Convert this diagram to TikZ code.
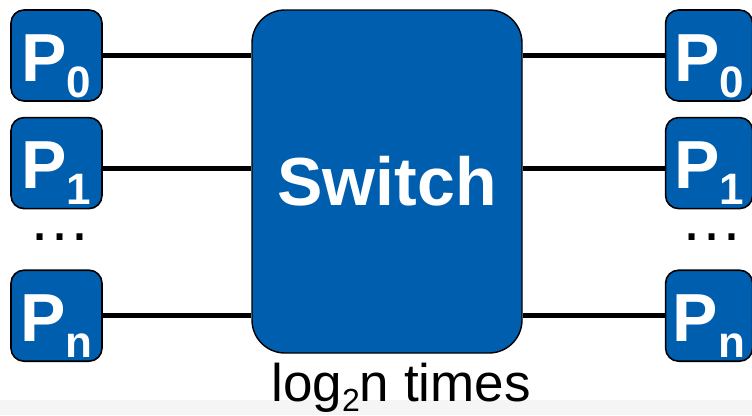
\documentclass[tikz,border=0pt]{standalone}
\usepackage{fontspec}
\setmainfont{Liberation Sans}
\usepackage{tikz}
\usetikzlibrary{positioning}
\definecolor{procblue}{RGB}{0,94,174}
\tikzset{
    proc/.style={
           rectangle,
           rounded corners=13pt,
           draw=black, line width=1.6pt,
           fill=procblue,
           text=white,
           minimum width=91pt,
           minimum height=91pt,
           inner sep=0pt,
           text height=71pt, text depth=20pt,
           font=\fontsize{68}{68}\selectfont\bfseries,
           },
    switchbox/.style={
           rectangle,
           rounded corners=33pt,
           draw=black, line width=1.4pt,
           fill=procblue,
           text=white,
           minimum width=270pt,
           minimum height=343pt,
           font=\fontsize{68}{68}\selectfont\bfseries,
           },
    dotsrow/.style={
           inner sep=0pt,
           font=\fontsize{63}{63}\selectfont,
           },
    wire/.style={
           draw=black,
           line width=4.8pt,
           },
}
% P with its index set low and smaller
\newcommand{\procname}[1]{P\raisebox{-16pt}{\fontsize{44}{44}\selectfont #1}}

\begin{document}
\begin{tikzpicture}[x=1pt,y=-1pt]

 \useasboundingbox (0,0) rectangle (752,415);
 \fill[black!4] (0,400) rectangle (752,415);

 % the switch in the middle
 \node[switchbox] (SWITCH) at (387,181.5) {Switch};

 % left column of processors
 \node[proc] (INP0) at (56.5,55.5) {\procname{0}};
 \node[proc, below=15pt of INP0] (INP1) {\procname{1}};
 \node[proc, below=60pt of INP1] (INPN) {\procname{n}};
 \node[dotsrow] (INDOTS) at (60,237) {…};

 % right column, same rows
 \node[proc, minimum width=87pt,
 right=562pt of INP0] (OUTP0) {\procname{0}};
 \node[proc, minimum width=87pt,
 right=562pt of INP1] (OUTP1) {\procname{1}};
 \node[proc, minimum width=87pt,
 right=562pt of INPN] (OUTPN) {\procname{n}};
 \node[dotsrow] (OUTDOTS) at (712,237) {…};

 % caption under the switch
 \node[below=9pt of SWITCH, xshift=14pt, inner sep=0pt,
 font=\fontsize{53}{53}\selectfont] (TIMES)
 {log\raisebox{-10pt}{\fontsize{32}{32}\selectfont 2}n times};

 % wires into and out of the switch
 \path[wire]
 (INP0.east) edge (INP0.east -| SWITCH.west)
 ([yshift=-5.5pt]INP1.east) edge ([yshift=-5.5pt]INP1.east -| SWITCH.west)
 (INPN.east) edge (INPN.east -| SWITCH.west)
 (SWITCH.east |- OUTP0.west) edge (OUTP0.west)
 ([yshift=-5.5pt]SWITCH.east |- OUTP1.west) edge ([yshift=-5.5pt]OUTP1.west)
 (SWITCH.east |- OUTPN.west) edge (OUTPN.west)
 ;

\end{tikzpicture}
\end{document}
